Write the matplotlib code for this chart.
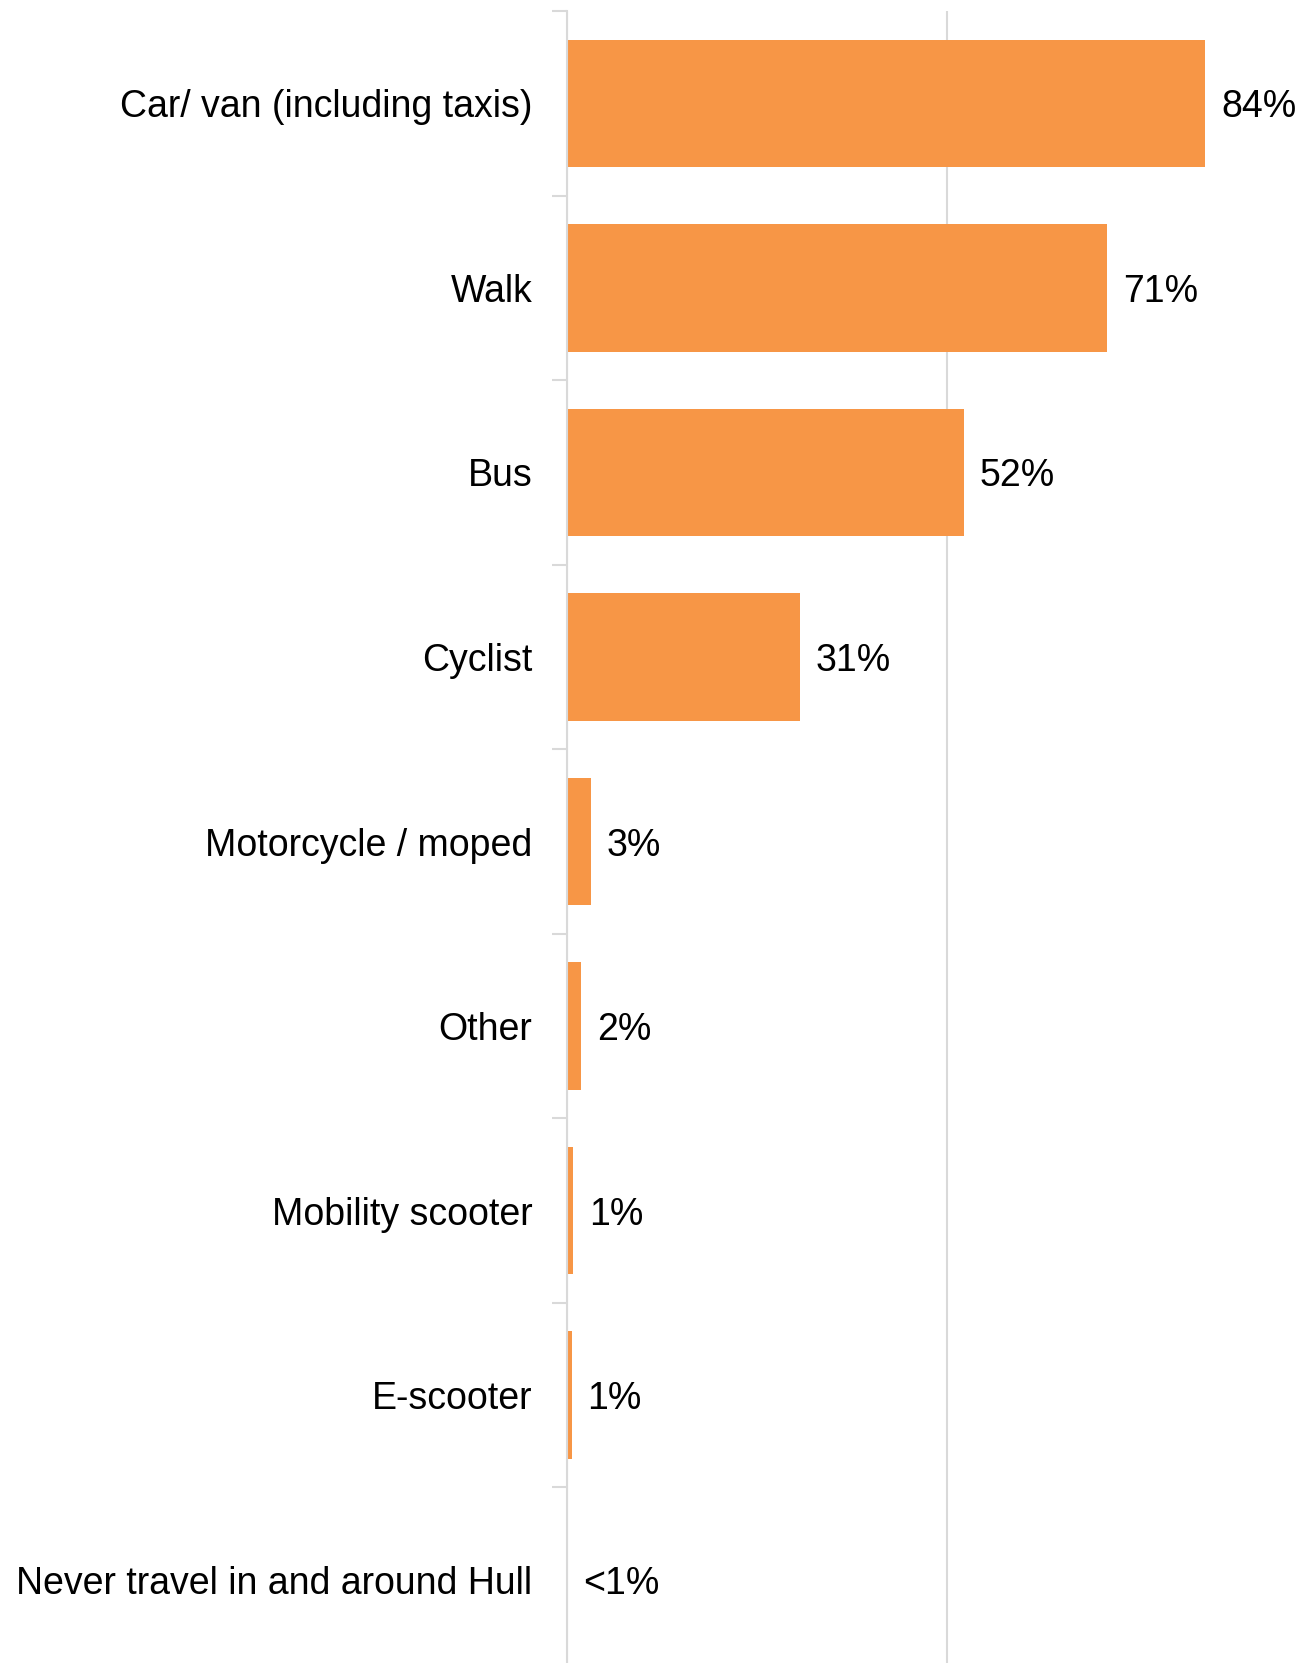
import numpy as np
import matplotlib.pyplot as plt

plt.rcParams['font.family'] = ['Liberation Sans', 'DejaVu Sans']

categories = ['Car/ van (including taxis)', 'Walk', 'Bus', 'Cyclist',
              'Motorcycle / moped', 'Other', 'Mobility scooter', 'E-scooter',
              'Never travel in and around Hull']
values = [84.0, 71.1, 52.2, 30.6, 3.1, 1.8, 0.75, 0.6, 0.0]
labels = ['84%', '71%', '52%', '31%', '3%', '2%', '1%', '1%', '<1%']

W, H = 1297, 1663
fig = plt.figure(figsize=(W / 100, H / 100), dpi=100)
# axes runs a little past the right and bottom edges, as in the original crop
left, top = 567 / W, 1 - 11 / H
bottom = 1 - 1672 / H
right = (567 + 760) / W
ax = fig.add_axes([left, bottom, right - left, top - bottom])

y = np.arange(len(categories))
ax.barh(y, values, height=0.69, color='#F79646', zorder=3)
ax.set_ylim(len(categories) - 0.5, -0.5)
ax.set_xlim(0, 100)

for yi, v, lab in zip(y, values, labels):
    ax.annotate(lab, (v, yi), xytext=(16, -4), textcoords='offset pixels',
                va='center', ha='left', fontsize=27, color='black')

# category labels centred in each slot, ticks on slot boundaries
ax.set_yticks(y)
ax.set_yticklabels(categories, fontsize=27)
ax.tick_params(axis='y', which='major', length=0, pad=25)
ax.set_yticks(np.arange(-0.5, len(categories)), minor=True)
ax.tick_params(axis='y', which='minor', length=11, width=1.5, color='#d9d9d9')

ax.set_xticks([0, 50, 100])
ax.tick_params(axis='x', length=0, labelbottom=False)
ax.xaxis.grid(True, color='#d9d9d9', linewidth=1.5, zorder=0)

for s in ['top', 'right', 'bottom']:
    ax.spines[s].set_visible(False)
ax.spines['left'].set_color('#d9d9d9')
ax.spines['left'].set_linewidth(1.5)
ax.spines['left'].set_zorder(4)

fig.savefig('out.png', dpi=100)
